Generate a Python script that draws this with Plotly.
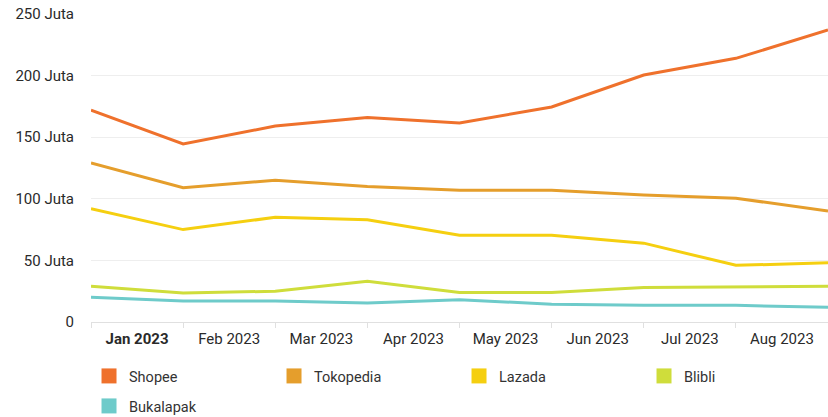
import plotly.graph_objects as go

months = ["Jan 2023", "Feb 2023", "Mar 2023", "Apr 2023", "May 2023",
          "Jun 2023", "Jul 2023", "Aug 2023", "Sep 2023"]
shopee = [172, 144.5, 159, 166, 161.5, 174.5, 200.5, 214, 237]
tokopedia = [129, 109, 115, 110, 107, 107, 103, 100.5, 90]
lazada = [92, 75, 85, 83, 70.5, 70.5, 64, 46, 48]
blibli = [29, 23.5, 25, 33, 24, 24, 28, 28.5, 29]
bukalapak = [20, 17, 17, 15.5, 18, 14.5, 13.5, 13.5, 12]

series = [
    ("Shopee", shopee, "#EF712C"),
    ("Tokopedia", tokopedia, "#E59E2C"),
    ("Lazada", lazada, "#F5CF10"),
    ("Blibli", blibli, "#CFDD3B"),
    ("Bukalapak", bukalapak, "#6ECBCA"),
]

y_ticks = [0, 50, 100, 150, 200, 250]
y_labels = ["0", "50 Juta", "100 Juta", "150 Juta", "200 Juta", "250 Juta"]

xs = list(range(len(months)))
fig = go.Figure()
for name, vals, col in series:
    fig.add_trace(go.Scatter(x=xs, y=vals, mode="lines", name=name,
                             line=dict(color=col, width=3), showlegend=False,
                             hovertemplate="%{y} Juta<extra>" + name + "</extra>"))
for i, (name, vals, col) in enumerate(series):
    fig.add_trace(go.Scatter(x=[None], y=[None], mode="markers", name=name,
                             marker=dict(symbol="square", size=15, color=col),
                             showlegend=True,
                             legend="legend" if i < 4 else "legend2"))

label_pos = [i + 0.5 for i in range(len(months) - 1)]
label_text = ["<b>" + months[0] + "</b>"] + months[1:-1]

leg_common = dict(orientation="h", xref="container", yref="container",
                  xanchor="left", yanchor="middle",
                  entrywidth=140, entrywidthmode="pixels",
                  font=dict(family="Roboto", size=14.5, color="#333333"),
                  bgcolor="rgba(0,0,0,0)")

fig.update_layout(
    width=828, height=417,
    margin=dict(l=91, r=0, t=14, b=95),
    paper_bgcolor="white", plot_bgcolor="white",
    font=dict(family="Roboto", size=15, color="#2a2a2a"),
    xaxis=dict(range=[0, len(months) - 1], tickmode="array", tickvals=label_pos,
               ticktext=label_text, ticks="", showgrid=False, zeroline=False,
               showline=True, linecolor="#e0e0e0", linewidth=1,
               ticklabelstandoff=3,
               minor=dict(tickmode="array", tickvals=xs, ticks="outside",
                          ticklen=5, tickcolor="#e0e0e0", showgrid=False)),
    yaxis=dict(range=[0, 250], tickmode="array", tickvals=y_ticks, ticktext=y_labels,
               showgrid=True, gridcolor="#eeeeee", zeroline=False, ticks="",
               ticklabelstandoff=16),
    legend=dict(x=0.1075, y=1 - 376 / 417, **leg_common),
    legend2=dict(x=0.1075, y=1 - 406 / 417, **leg_common),
)

fig.write_html("out.html")
